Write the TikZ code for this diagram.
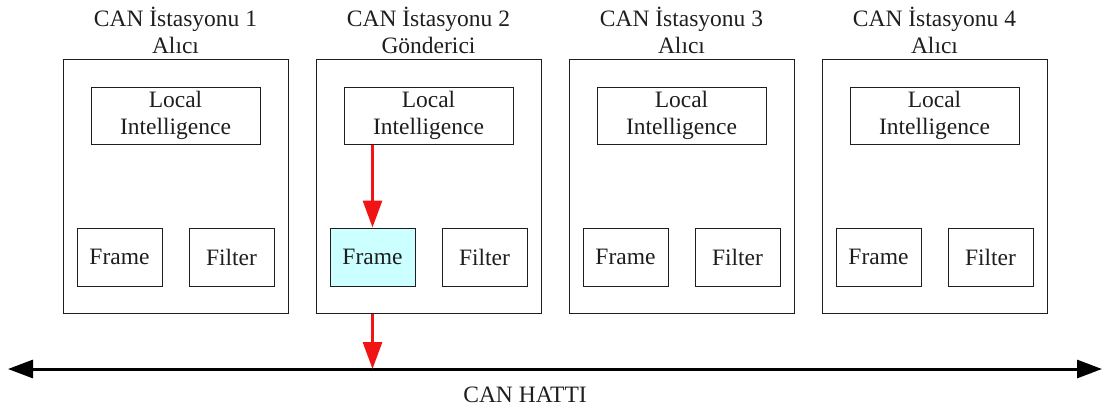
\documentclass[tikz,border=0pt]{standalone}
\usepackage{fontspec}
\setmainfont{Liberation Serif}
\usetikzlibrary{arrows.meta}
\definecolor{framefill}{RGB}{204,255,255}
\definecolor{sendred}{RGB}{240,20,20}
\definecolor{inkgray}{RGB}{30,30,30}
\tikzset{
  lbl/.style={inner sep=0pt, align=center, text=inkgray, font=\fontsize{23.5}{27}\selectfont},
  stationbox/.style={draw=inkgray, line width=1pt, inner sep=0pt,
    minimum width=225pt, minimum height=254pt},
  libox/.style={draw=inkgray, line width=1pt, lbl,
    minimum width=169pt, minimum height=57pt},
  smallbox/.style={draw=inkgray, line width=1pt, lbl,
    minimum width=85pt, minimum height=58pt},
  sendarrow/.style={draw=sendred, line width=3pt,
    -{Triangle[length=27pt,width=19pt]}, sendred},
  busline/.style={line width=3pt, {Triangle[length=25pt,width=18pt]}-{Triangle[length=25pt,width=18pt]}}
}
\begin{document}
\begin{tikzpicture}[x=1pt,y=-1pt]
\useasboundingbox (0,0) rectangle (1107,416);

% four CAN stations
\foreach \i/\role/\ffill in {1/Alıcı/white,2/Gönderici/framefill,3/Alıcı/white,4/Alıcı/white} {
  \pgfmathsetmacro\cx{175.5+253*(\i-1)}
  \node[lbl] (title\i) at (\cx,30) {CAN İstasyonu \i\\\role};
  \node[stationbox] (st\i) at (\cx,186) {};
  \node[libox] (li\i) at (\cx,115.5) {Local\\Intelligence};
  \node[smallbox, fill=\ffill] (fr\i) at (\cx-56,257) {Frame};
  \node[smallbox] (fi\i) at (\cx+56,257) {Filter};
}

% CAN bus
\coordinate (busL) at (8,369);
\coordinate (busR) at (1102,369);
\draw[busline] (busL) -- (busR);
\node[lbl] (bus) at (525,395) {CAN HATTI};

% transmission path of the sending station
\draw[sendarrow] (fr2 |- li2.south) -- (fr2.north);
\draw[sendarrow] (fr2 |- st2.south) -- (fr2 |- busL);
\end{tikzpicture}
\end{document}
